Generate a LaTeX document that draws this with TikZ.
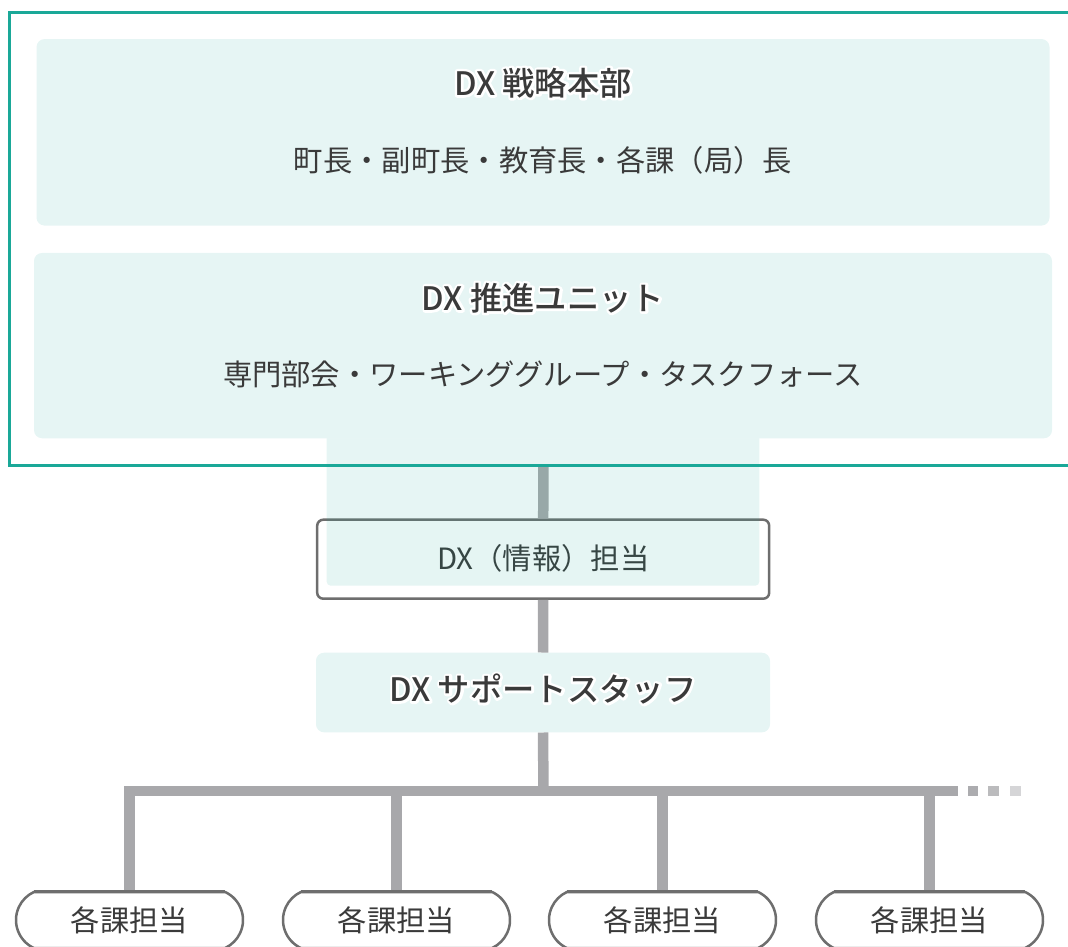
\documentclass[tikz,border=0pt]{standalone}
\usepackage{fontspec}
\setmainfont{Noto Sans CJK JP}
\IfFontExistsTF{Noto Sans CJK JP Medium}
  {\newfontfamily\medfont{Noto Sans CJK JP Medium}}
  {\newcommand{\medfont}{\bfseries}}
\usetikzlibrary{shapes.misc}
\definecolor{tealc}{RGB}{26,168,152}
\definecolor{paletl}{RGB}{230,245,244}
\definecolor{linec}{RGB}{168,168,171}
\definecolor{dotb}{RGB}{187,187,189}
\definecolor{dotc}{RGB}{213,213,215}
\definecolor{txt}{RGB}{58,58,58}
\definecolor{bordc}{RGB}{110,110,110}
% white outline behind heading text (stroke-only render pass, then normal text)
\newcommand{\halo}[1]{\leavevmode\rlap{\special{pdf:code 1 Tr 5 w 1 j 1 1 1 RG}#1\special{pdf:code 0 Tr}}#1}
\tikzset{
  panel/.style={fill=paletl, rounded corners=8pt, draw=none, inner sep=0pt},
  infobox/.style={fill=white, draw=bordc, line width=2.5pt, rounded corners=6pt, inner sep=0pt,
    minimum width=452pt, minimum height=79pt, text=txt, font=\fontsize{29.3}{34}\selectfont},
  conn/.style={draw=linec, line width=10.5pt},
  head/.style={font=\medfont\fontsize{32.3}{36}\selectfont, text=txt, inner sep=0pt},
  body/.style={font=\fontsize{29.3}{34}\selectfont, text=txt, inner sep=0pt},
  leaf/.style={rounded rectangle, rounded rectangle arc length=130, draw=bordc, line width=2.5pt,
    fill=white, minimum width=227pt, minimum height=56pt, inner sep=0pt, text=txt,
    font=\fontsize{29.3}{34}\selectfont},
  dotsq/.style={inner sep=0pt, minimum size=10.5pt, draw=none}
}
\begin{document}
\begin{tikzpicture}[x=1pt,y=-1pt]
\useasboundingbox (0,0) rectangle (1068,947);
% panels
\node[panel, minimum width=1013pt, minimum height=186.5pt] (box1) at (543,132.3) {};
\node[panel, minimum width=1018pt, minimum height=185.3pt] (box2) at (543,345.6) {};
\node[panel, minimum width=454pt, minimum height=79.6pt] (sup) at (543,692.5) {};
\node[infobox] (info) at (543.2,559.2) {\raisebox{4pt}{DX（情報）担当}};
\coordinate (fb) at (543.5,465.5);
\coordinate (hub) at (543.5,791.2);
\coordinate (hr) at (958,791.2);
% leaves
\node[leaf] (k1) at (129.5,920) {各課担当};
\node[leaf] (k2) at (396.5,920) {各課担当};
\node[leaf] (k3) at (662.5,920) {各課担当};
\node[leaf] (k4) at (929.5,920) {各課担当};
% connectors
\draw[conn] (fb) -- (info.north);
\draw[conn] (info.south) -- (sup.north);
\draw[conn] (sup.south) -- (hub);
\draw[conn, line join=miter] (k1.north) |- (hr);
\draw[conn] (k2.north) -- (k2.north |- hub);
\draw[conn] (k3.north) -- (k3.north |- hub);
\draw[conn] (k4.north) -- (k4.north |- hub);
\node[dotsq, fill=linec!95!white] (d1) at (972.8,791.2) {};
\node[dotsq, fill=dotb] (d2) at (993.5,791.2) {};
\node[dotsq, fill=dotc] (d3) at (1015.3,791.2) {};
% leaf outlines over connector ends
\foreach \k in {k1,k2,k3,k4}
  \draw[bordc, line width=2.5pt] (\k.north west) -- (\k.north east);
% extension of the unit panel
\fill[tealc, fill opacity=0.11, rounded corners=4pt] (326.7,438.3) -- (326.7,585.7) -- (759.3,585.7) -- (759.3,438.3);
% frame
\draw[tealc, line width=3.5pt] (9.7,12.5) rectangle (1090,465.5);
% texts
\node[head] (t1) at (543,83) {\halo{DX 戦略本部}};
\node[body] (t2) at (543,160) {町長・副町長・教育長・各課（局）長};
\node[head] (t3) at (543,298) {\halo{DX 推進ユニット}};
\node[body] (t4) at (543,374) {専門部会・ワーキンググループ・タスクフォース};
\node[head] (t5) at (543,689) {\halo{DX サポートスタッフ}};
\end{tikzpicture}
\end{document}
